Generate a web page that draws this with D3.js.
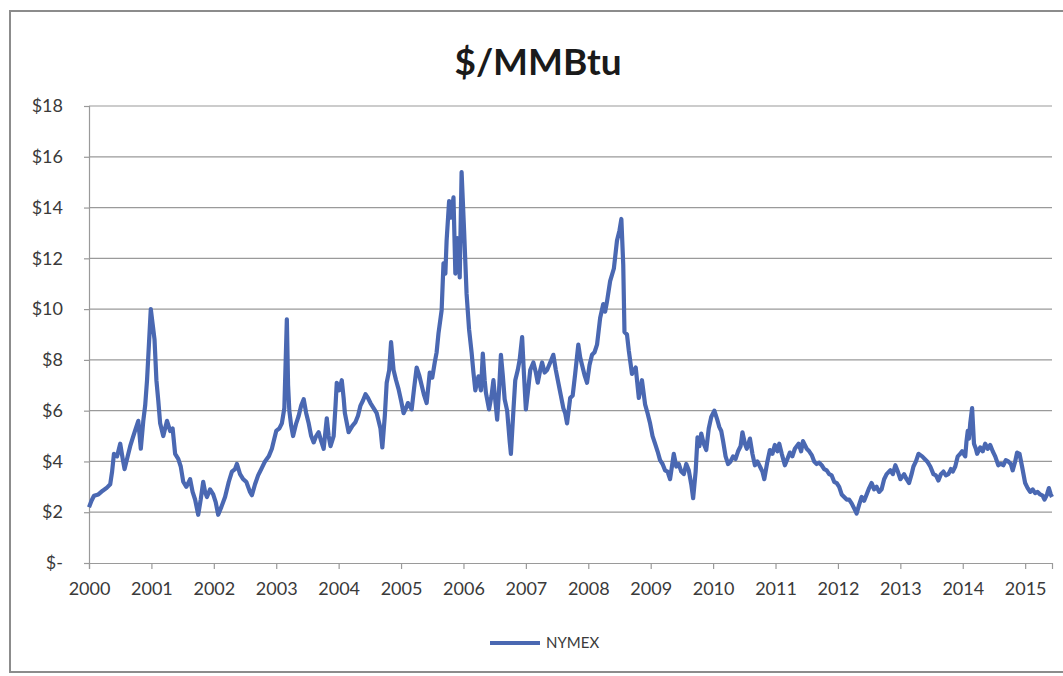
<!DOCTYPE html>
<html>

<head>
    <title>$/MMBtu</title>
    <script src="https://cdn.jsdelivr.net/npm/d3@7"></script>
    <style>
        html, body { margin: 0; padding: 0; background: #fff; overflow: hidden; }
        svg { display: block; }
    </style>
</head>

<body>
    <svg width="1063" height="676" id="mainsvg"></svg>
    <script>
        // NYMEX natural gas, decimal year -> $/MMBtu
        const years = [
            2000.00, 2000.04, 2000.08, 2000.15, 2000.22, 2000.28, 2000.34, 2000.37, 2000.40, 2000.45,
            2000.50, 2000.54, 2000.57, 2000.62, 2000.66, 2000.71, 2000.75, 2000.79, 2000.83, 2000.87,
            2000.90, 2000.93, 2000.96, 2000.99, 2001.02, 2001.05, 2001.08, 2001.11, 2001.14, 2001.19,
            2001.25, 2001.30, 2001.34, 2001.38, 2001.43, 2001.47, 2001.51, 2001.56, 2001.62, 2001.66,
            2001.70, 2001.75, 2001.79, 2001.83, 2001.86, 2001.89, 2001.94, 2001.99, 2002.03, 2002.07,
            2002.12, 2002.18, 2002.24, 2002.29, 2002.34, 2002.37, 2002.42, 2002.47, 2002.52, 2002.58,
            2002.61, 2002.66, 2002.71, 2002.76, 2002.82, 2002.88, 2002.93, 2002.97, 2003.00, 2003.05,
            2003.09, 2003.13, 2003.17, 2003.19, 2003.21, 2003.24, 2003.27, 2003.32, 2003.36, 2003.40,
            2003.44, 2003.48, 2003.52, 2003.56, 2003.60, 2003.64, 2003.68, 2003.72, 2003.76, 2003.81,
            2003.84, 2003.87, 2003.92, 2003.95, 2003.97, 2004.01, 2004.05, 2004.08, 2004.10, 2004.16,
            2004.22, 2004.27, 2004.31, 2004.35, 2004.39, 2004.43, 2004.47, 2004.51, 2004.56, 2004.61,
            2004.67, 2004.70, 2004.74, 2004.77, 2004.81, 2004.84, 2004.88, 2004.92, 2004.96, 2005.00,
            2005.04, 2005.08, 2005.11, 2005.17, 2005.21, 2005.25, 2005.29, 2005.33, 2005.37, 2005.41,
            2005.46, 2005.50, 2005.54, 2005.57, 2005.60, 2005.65, 2005.68, 2005.71, 2005.73, 2005.77,
            2005.80, 2005.84, 2005.87, 2005.90, 2005.92, 2005.94, 2005.97, 2006.01, 2006.05, 2006.09,
            2006.13, 2006.16, 2006.19, 2006.24, 2006.28, 2006.31, 2006.34, 2006.36, 2006.41, 2006.45,
            2006.48, 2006.51, 2006.54, 2006.57, 2006.60, 2006.63, 2006.66, 2006.70, 2006.72, 2006.74,
            2006.76, 2006.80, 2006.83, 2006.87, 2006.90, 2006.94, 2006.97, 2007.00, 2007.04, 2007.07,
            2007.12, 2007.16, 2007.19, 2007.23, 2007.26, 2007.30, 2007.34, 2007.39, 2007.44, 2007.48,
            2007.52, 2007.56, 2007.60, 2007.63, 2007.66, 2007.71, 2007.75, 2007.79, 2007.84, 2007.87,
            2007.90, 2007.94, 2007.98, 2008.02, 2008.06, 2008.10, 2008.14, 2008.19, 2008.24, 2008.27,
            2008.30, 2008.35, 2008.41, 2008.46, 2008.50, 2008.53, 2008.56, 2008.58, 2008.62, 2008.65,
            2008.70, 2008.76, 2008.81, 2008.86, 2008.91, 2008.95, 2008.99, 2009.03, 2009.07, 2009.11,
            2009.15, 2009.19, 2009.23, 2009.27, 2009.31, 2009.37, 2009.41, 2009.45, 2009.49, 2009.53,
            2009.57, 2009.61, 2009.65, 2009.68, 2009.72, 2009.75, 2009.78, 2009.81, 2009.85, 2009.89,
            2009.93, 2009.97, 2010.02, 2010.06, 2010.10, 2010.13, 2010.16, 2010.20, 2010.24, 2010.28,
            2010.32, 2010.36, 2010.40, 2010.44, 2010.47, 2010.51, 2010.54, 2010.59, 2010.63, 2010.67,
            2010.71, 2010.75, 2010.79, 2010.82, 2010.87, 2010.91, 2010.95, 2010.99, 2011.03, 2011.06,
            2011.10, 2011.15, 2011.19, 2011.23, 2011.27, 2011.31, 2011.37, 2011.41, 2011.44, 2011.50,
            2011.54, 2011.58, 2011.62, 2011.66, 2011.70, 2011.74, 2011.78, 2011.82, 2011.86, 2011.90,
            2011.94, 2011.98, 2012.02, 2012.06, 2012.10, 2012.14, 2012.18, 2012.22, 2012.26, 2012.30,
            2012.34, 2012.38, 2012.42, 2012.46, 2012.50, 2012.54, 2012.58, 2012.62, 2012.66, 2012.70,
            2012.74, 2012.78, 2012.84, 2012.88, 2012.92, 2012.96, 2013.00, 2013.06, 2013.10, 2013.14,
            2013.18, 2013.21, 2013.25, 2013.29, 2013.35, 2013.39, 2013.43, 2013.48, 2013.53, 2013.57,
            2013.61, 2013.65, 2013.69, 2013.73, 2013.77, 2013.81, 2013.84, 2013.88, 2013.92, 2013.96,
            2013.99, 2014.04, 2014.06, 2014.08, 2014.10, 2014.12, 2014.15, 2014.18, 2014.21, 2014.23,
            2014.28, 2014.32, 2014.36, 2014.40, 2014.44, 2014.48, 2014.52, 2014.57, 2014.61, 2014.65,
            2014.69, 2014.73, 2014.77, 2014.80, 2014.84, 2014.87, 2014.91, 2014.95, 2015.00, 2015.04,
            2015.08, 2015.12, 2015.16, 2015.20, 2015.24, 2015.28, 2015.31, 2015.35, 2015.38, 2015.41,
            2015.43
        ];
        const prices = [
            2.2, 2.45, 2.65, 2.7, 2.85, 2.95, 3.1, 3.6, 4.3, 4.2,
            4.7, 4.1, 3.7, 4.2, 4.6, 5.0, 5.3, 5.6, 4.5, 5.6,
            6.2, 7.2, 8.6, 10.0, 9.4, 8.8, 7.2, 6.4, 5.5, 5.0,
            5.6, 5.2, 5.3, 4.3, 4.1, 3.8, 3.2, 3.0, 3.3, 2.8,
            2.5, 1.9, 2.5, 3.2, 2.8, 2.6, 2.9, 2.7, 2.4, 1.9,
            2.2, 2.6, 3.2, 3.6, 3.7, 3.9, 3.5, 3.3, 3.2, 2.8,
            2.67, 3.1, 3.45, 3.7, 4.0, 4.2, 4.5, 4.9, 5.2, 5.3,
            5.5, 6.1, 9.6, 7.0, 6.0, 5.4, 5.0, 5.5, 5.8, 6.2,
            6.45, 5.9, 5.5, 5.0, 4.75, 5.0, 5.15, 4.8, 4.5, 5.7,
            5.0, 4.6, 5.0, 6.2, 7.1, 6.8, 7.2, 6.5, 5.9, 5.15,
            5.4, 5.55, 5.8, 6.2, 6.4, 6.65, 6.5, 6.3, 6.1, 5.9,
            5.3, 4.55, 5.8, 7.1, 7.6, 8.7, 7.6, 7.2, 6.85, 6.4,
            5.9, 6.1, 6.3, 6.05, 6.9, 7.7, 7.4, 7.0, 6.6, 6.3,
            7.5, 7.3, 7.9, 8.3, 9.05, 9.95, 11.8, 11.4, 12.7, 14.25,
            13.6, 14.4, 11.4, 12.8, 12.4, 11.25, 15.4, 13.1, 10.6, 9.2,
            8.3, 7.5, 6.8, 7.35, 6.8, 8.25, 7.2, 6.7, 6.05, 6.6,
            7.2, 6.4, 5.65, 6.8, 8.2, 7.4, 6.45, 6.0, 5.4, 4.8,
            4.3, 6.0, 7.2, 7.6, 8.0, 8.9, 7.4, 6.05, 6.9, 7.6,
            7.9, 7.5, 7.1, 7.6, 7.9, 7.5, 7.6, 7.9, 8.2, 7.6,
            7.1, 6.6, 6.1, 5.9, 5.5, 6.5, 6.6, 7.45, 8.6, 8.1,
            7.8, 7.4, 7.1, 7.8, 8.2, 8.3, 8.6, 9.65, 10.2, 9.9,
            10.3, 11.1, 11.6, 12.7, 13.1, 13.55, 11.75, 9.1, 9.0, 8.35,
            7.45, 7.7, 6.5, 7.2, 6.25, 5.9, 5.5, 5.0, 4.7, 4.4,
            4.05, 3.9, 3.65, 3.6, 3.3, 4.3, 3.8, 3.9, 3.6, 3.5,
            3.9, 3.65, 3.1, 2.55, 3.6, 4.95, 4.6, 5.1, 4.7, 4.45,
            5.3, 5.75, 6.0, 5.7, 5.35, 5.2, 4.8, 4.2, 3.9, 4.0,
            4.2, 4.1, 4.4, 4.6, 5.15, 4.7, 4.5, 4.9, 4.3, 3.85,
            4.0, 3.8, 3.6, 3.3, 4.0, 4.45, 4.3, 4.65, 4.4, 4.7,
            4.3, 3.85, 4.1, 4.35, 4.2, 4.5, 4.7, 4.4, 4.8, 4.5,
            4.4, 4.25, 4.0, 3.9, 3.95, 3.85, 3.7, 3.65, 3.5, 3.45,
            3.2, 3.15, 3.0, 2.7, 2.6, 2.5, 2.5, 2.35, 2.15, 1.95,
            2.3, 2.6, 2.45, 2.7, 2.95, 3.15, 2.9, 3.0, 2.8, 2.9,
            3.3, 3.5, 3.65, 3.5, 3.85, 3.6, 3.3, 3.5, 3.3, 3.15,
            3.5, 3.8, 4.0, 4.3, 4.2, 4.1, 4.0, 3.8, 3.5, 3.45,
            3.25, 3.5, 3.6, 3.45, 3.5, 3.7, 3.6, 3.8, 4.2, 4.3,
            4.4, 4.2, 4.8, 5.2, 4.9, 5.5, 6.1, 4.7, 4.5, 4.3,
            4.55, 4.4, 4.7, 4.5, 4.65, 4.4, 4.2, 3.85, 3.9, 3.85,
            4.05, 4.0, 3.9, 3.65, 4.0, 4.35, 4.3, 3.8, 3.15, 2.95,
            2.8, 2.9, 2.75, 2.8, 2.7, 2.65, 2.5, 2.7, 2.95, 2.7,
            2.6
        ];
        const yearTicks = [2000, 2001, 2002, 2003, 2004, 2005, 2006, 2007,
            2008, 2009, 2010, 2011, 2012, 2013, 2014, 2015];
        const priceTicks = [0, 2, 4, 6, 8, 10, 12, 14, 16, 18];
        const priceLabels = ['$-', '$2', '$4', '$6', '$8', '$10', '$12', '$14', '$16', '$18'];
        const seriesName = 'NYMEX';
        const titleText = '$/MMBtu';

        const fontFamily = 'Lato, "Open Sans", sans-serif';
        const svg = d3.select('svg')
            .attr('font-family', fontFamily);
        const width = +svg.attr('width');
        const height = +svg.attr('height');
        const margin = { top: 106, right: 11, bottom: 113, left: 89 };
        const innerWidth = width - margin.left - margin.right;
        const innerHeight = height - margin.top - margin.bottom;
        const lineColor = '#4a68b2';
        const gridColor = '#9a9a9a';
        const labelColor = '#3a3a3a';

        // chart frame: the scan cuts it off at the right, so stop at the page edge
        svg.append('path')
            .attr('d', `M${width},11 H10 V672 H${width}`)
            .attr('fill', 'none')
            .attr('stroke', '#8c8c8c')
            .attr('stroke-width', 2);

        svg.append('text')
            .attr('x', 538).attr('y', 75)
            .attr('text-anchor', 'middle')
            .attr('font-size', 37)
            .attr('font-weight', 'bold')
            .attr('fill', '#1a1a1a')
            .text(titleText);

        const g = svg.append('g')
            .attr('transform', `translate(${margin.left}, ${margin.top})`);

        const xScale = d3.scaleLinear()
            .domain([2000, d3.max(years)])
            .range([0, innerWidth]);
        const yScale = d3.scaleLinear()
            .domain([0, 18])
            .range([innerHeight, 0]);

        // horizontal gridlines, drawn as plain lines
        g.append('g')
            .selectAll('line')
            .data(priceTicks.slice(1))
            .join('line')
            .attr('x1', 0).attr('x2', innerWidth)
            .attr('y1', d => yScale(d)).attr('y2', d => yScale(d))
            .attr('stroke', gridColor)
            .attr('stroke-width', 1.2);

        const yAxis = d3.axisLeft(yScale)
            .tickValues(priceTicks)
            .tickFormat((d, i) => priceLabels[i])
            .tickSize(5)
            .tickPadding(21);
        const yAxisGroup = g.append('g')
            .call(yAxis)
            .attr('font-family', fontFamily)
            .attr('font-size', 18);
        yAxisGroup.select('.domain').attr('stroke', gridColor).attr('stroke-width', 1.2);
        yAxisGroup.selectAll('.tick line').attr('stroke', gridColor).attr('stroke-width', 1.2);
        yAxisGroup.selectAll('.tick text').attr('fill', labelColor);

        const xAxis = d3.axisBottom(xScale)
            .tickValues(yearTicks)
            .tickFormat(d3.format('d'))
            .tickSize(6)
            .tickPadding(13);
        const xAxisGroup = g.append('g')
            .attr('transform', `translate(0, ${innerHeight})`)
            .call(xAxis)
            .attr('font-family', fontFamily)
            .attr('font-size', 18);
        xAxisGroup.select('.domain').attr('stroke', gridColor).attr('stroke-width', 1.2);
        xAxisGroup.selectAll('.tick line').attr('stroke', gridColor).attr('stroke-width', 1.2);
        xAxisGroup.selectAll('.tick text').attr('fill', labelColor);

        const line = d3.line()
            .x((d, i) => xScale(years[i]))
            .y(d => yScale(d));

        g.append('path')
            .datum(prices)
            .attr('d', line)
            .attr('fill', 'none')
            .attr('stroke', lineColor)
            .attr('stroke-width', 4.2)
            .attr('stroke-linejoin', 'round');

        // legend
        const legend = svg.append('g').attr('transform', 'translate(490, 643)');
        legend.append('line')
            .attr('x1', 0).attr('x2', 50)
            .attr('stroke', lineColor)
            .attr('stroke-width', 4);
        legend.append('text')
            .attr('x', 56).attr('y', 5)
            .attr('font-size', 15)
            .attr('fill', labelColor)
            .text(seriesName);
    </script>
</body>

</html>
